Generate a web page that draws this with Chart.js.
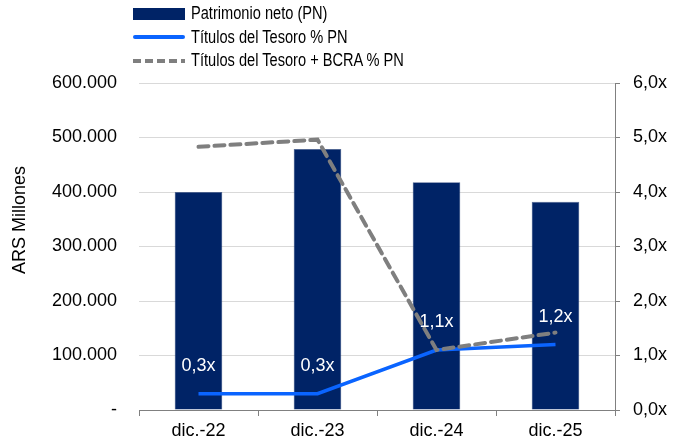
<!DOCTYPE html>
<html>
<head>
<meta charset="utf-8">
<script src="https://cdn.jsdelivr.net/npm/chart.js@4"></script>
<style>
  html, body { margin: 0; padding: 0; background: #fff; }
  #wrap { position: relative; width: 682px; height: 445px; }
  #legend { position: absolute; left: 133px; top: 2px; font-family: "Liberation Sans", Arial, sans-serif; font-size: 17.5px; color: #000; }
  #legend .row { height: 23.5px; display: flex; align-items: center; }
  #legend .sw { width: 52px; height: 12px; margin-right: 6px; flex: none; }
  #legend span { display: inline-block; transform: scaleX(0.835); transform-origin: left center; white-space: nowrap; }
</style>
</head>
<body>
<div id="wrap">
  <canvas id="chart" width="682" height="445"></canvas>
  <div id="legend"></div>
</div>
<script>
const categories = ['dic.-22', 'dic.-23', 'dic.-24', 'dic.-25'];
const patrimonioNeto = [400000, 479000, 418000, 382000];
const titulosTesoro = [0.3, 0.3, 1.1, 1.2];
const titulosTesoroBcra = [4.83, 4.96, 1.1, 1.42];
const leftTicks = [0, 100000, 200000, 300000, 400000, 500000, 600000];
const rightTicks = [0, 1, 2, 3, 4, 5, 6];

const navy = '#002366';
const blue = '#0a64ff';
const gray = '#7f7f7f';
const font = '"Liberation Sans", Arial, sans-serif';

// labels over the blue line + left axis title
const extras = {
  id: 'extras',
  afterDatasetsDraw(chart) {
    const ctx = chart.ctx;
    const meta = chart.getDatasetMeta(1);
    ctx.save();
    ctx.font = '18px ' + font;
    ctx.fillStyle = '#fff';
    ctx.textAlign = 'center';
    ctx.textBaseline = 'middle';
    meta.data.forEach((p, i) => {
      ctx.fillText(titulosTesoro[i].toFixed(1).replace('.', ',') + 'x', p.x, p.y - 28);
    });
    ctx.restore();

    ctx.save();
    ctx.font = '18px ' + font;
    ctx.fillStyle = '#000';
    ctx.textAlign = 'center';
    ctx.textBaseline = 'middle';
    ctx.translate(20, 220);
    ctx.rotate(-Math.PI / 2);
    ctx.fillText('ARS Millones', 0, 0);
    ctx.restore();
  }
};

const chart = new Chart(document.getElementById('chart'), {
  data: {
    labels: categories,
    datasets: [
      {
        type: 'bar',
        label: 'Patrimonio neto (PN)',
        data: patrimonioNeto,
        backgroundColor: navy,
        borderColor: '#4a5f8a',
        borderWidth: 0.6,
        barPercentage: 0.4,
        categoryPercentage: 1,
        yAxisID: 'y',
        order: 3
      },
      {
        type: 'line',
        label: 'Títulos del Tesoro % PN',
        data: titulosTesoro,
        borderColor: blue,
        borderWidth: 3.5,
        pointRadius: 0,
        tension: 0,
        yAxisID: 'y1',
        order: 2
      },
      {
        type: 'line',
        label: 'Títulos del Tesoro + BCRA % PN',
        data: titulosTesoroBcra,
        borderColor: gray,
        borderWidth: 4,
        borderDash: [10, 6],
        borderCapStyle: 'round',
        pointRadius: 0,
        tension: 0,
        yAxisID: 'y1',
        order: 1
      }
    ]
  },
  options: {
    responsive: false,
    animation: false,
    layout: { padding: { top: 83, left: 0, right: 0, bottom: 0 } },
    plugins: {
      legend: { display: false },
      tooltip: { enabled: false }
    },
    scales: {
      x: {
        grid: { display: true, drawOnChartArea: false, offset: true, color: '#808080', tickLength: 6 },
        border: { color: '#808080' },
        ticks: { color: '#000', font: { family: font, size: 18 }, padding: 4 },
        afterFit: s => { s.height = 35; }
      },
      y: {
        position: 'left',
        min: 0, max: 600000,
        afterBuildTicks: s => { s.ticks = leftTicks.map(v => ({ value: v })); },
        grid: { color: '#d9d9d9', drawTicks: false },
        border: { display: false },
        ticks: {
          color: '#000', font: { family: font, size: 18 }, padding: 22,
          callback: v => v === 0 ? '-' : v.toLocaleString('de-DE')
        },
        afterFit: s => { s.width = 139; }
      },
      y1: {
        position: 'right',
        min: 0, max: 6,
        afterBuildTicks: s => { s.ticks = rightTicks.map(v => ({ value: v })); },
        grid: { drawOnChartArea: false, color: '#808080', tickLength: 5 },
        border: { color: '#808080' },
        ticks: {
          color: '#000', font: { family: font, size: 18 }, padding: 13,
          callback: v => v.toFixed(1).replace('.', ',') + 'x'
        },
        afterFit: s => { s.width = 67; }
      }
    }
  },
  plugins: [extras]
});

// html legend, one row per dataset
const legend = document.getElementById('legend');
chart.data.datasets.forEach((ds, i) => {
  const row = document.createElement('div');
  row.className = 'row';
  const sw = document.createElement('div');
  sw.className = 'sw';
  if (i === 0) {
    sw.style.background = navy;
  } else if (i === 1) {
    sw.style.height = '4px';
    sw.style.background = blue;
    sw.style.borderRadius = '2px';
  } else {
    sw.style.height = '4px';
    sw.style.background = 'repeating-linear-gradient(90deg,' + gray + ' 0 8px, transparent 8px 12px)';
  }
  const tx = document.createElement('span');
  tx.textContent = ds.label;
  row.appendChild(sw);
  row.appendChild(tx);
  legend.appendChild(row);
});
</script>
</body>
</html>
